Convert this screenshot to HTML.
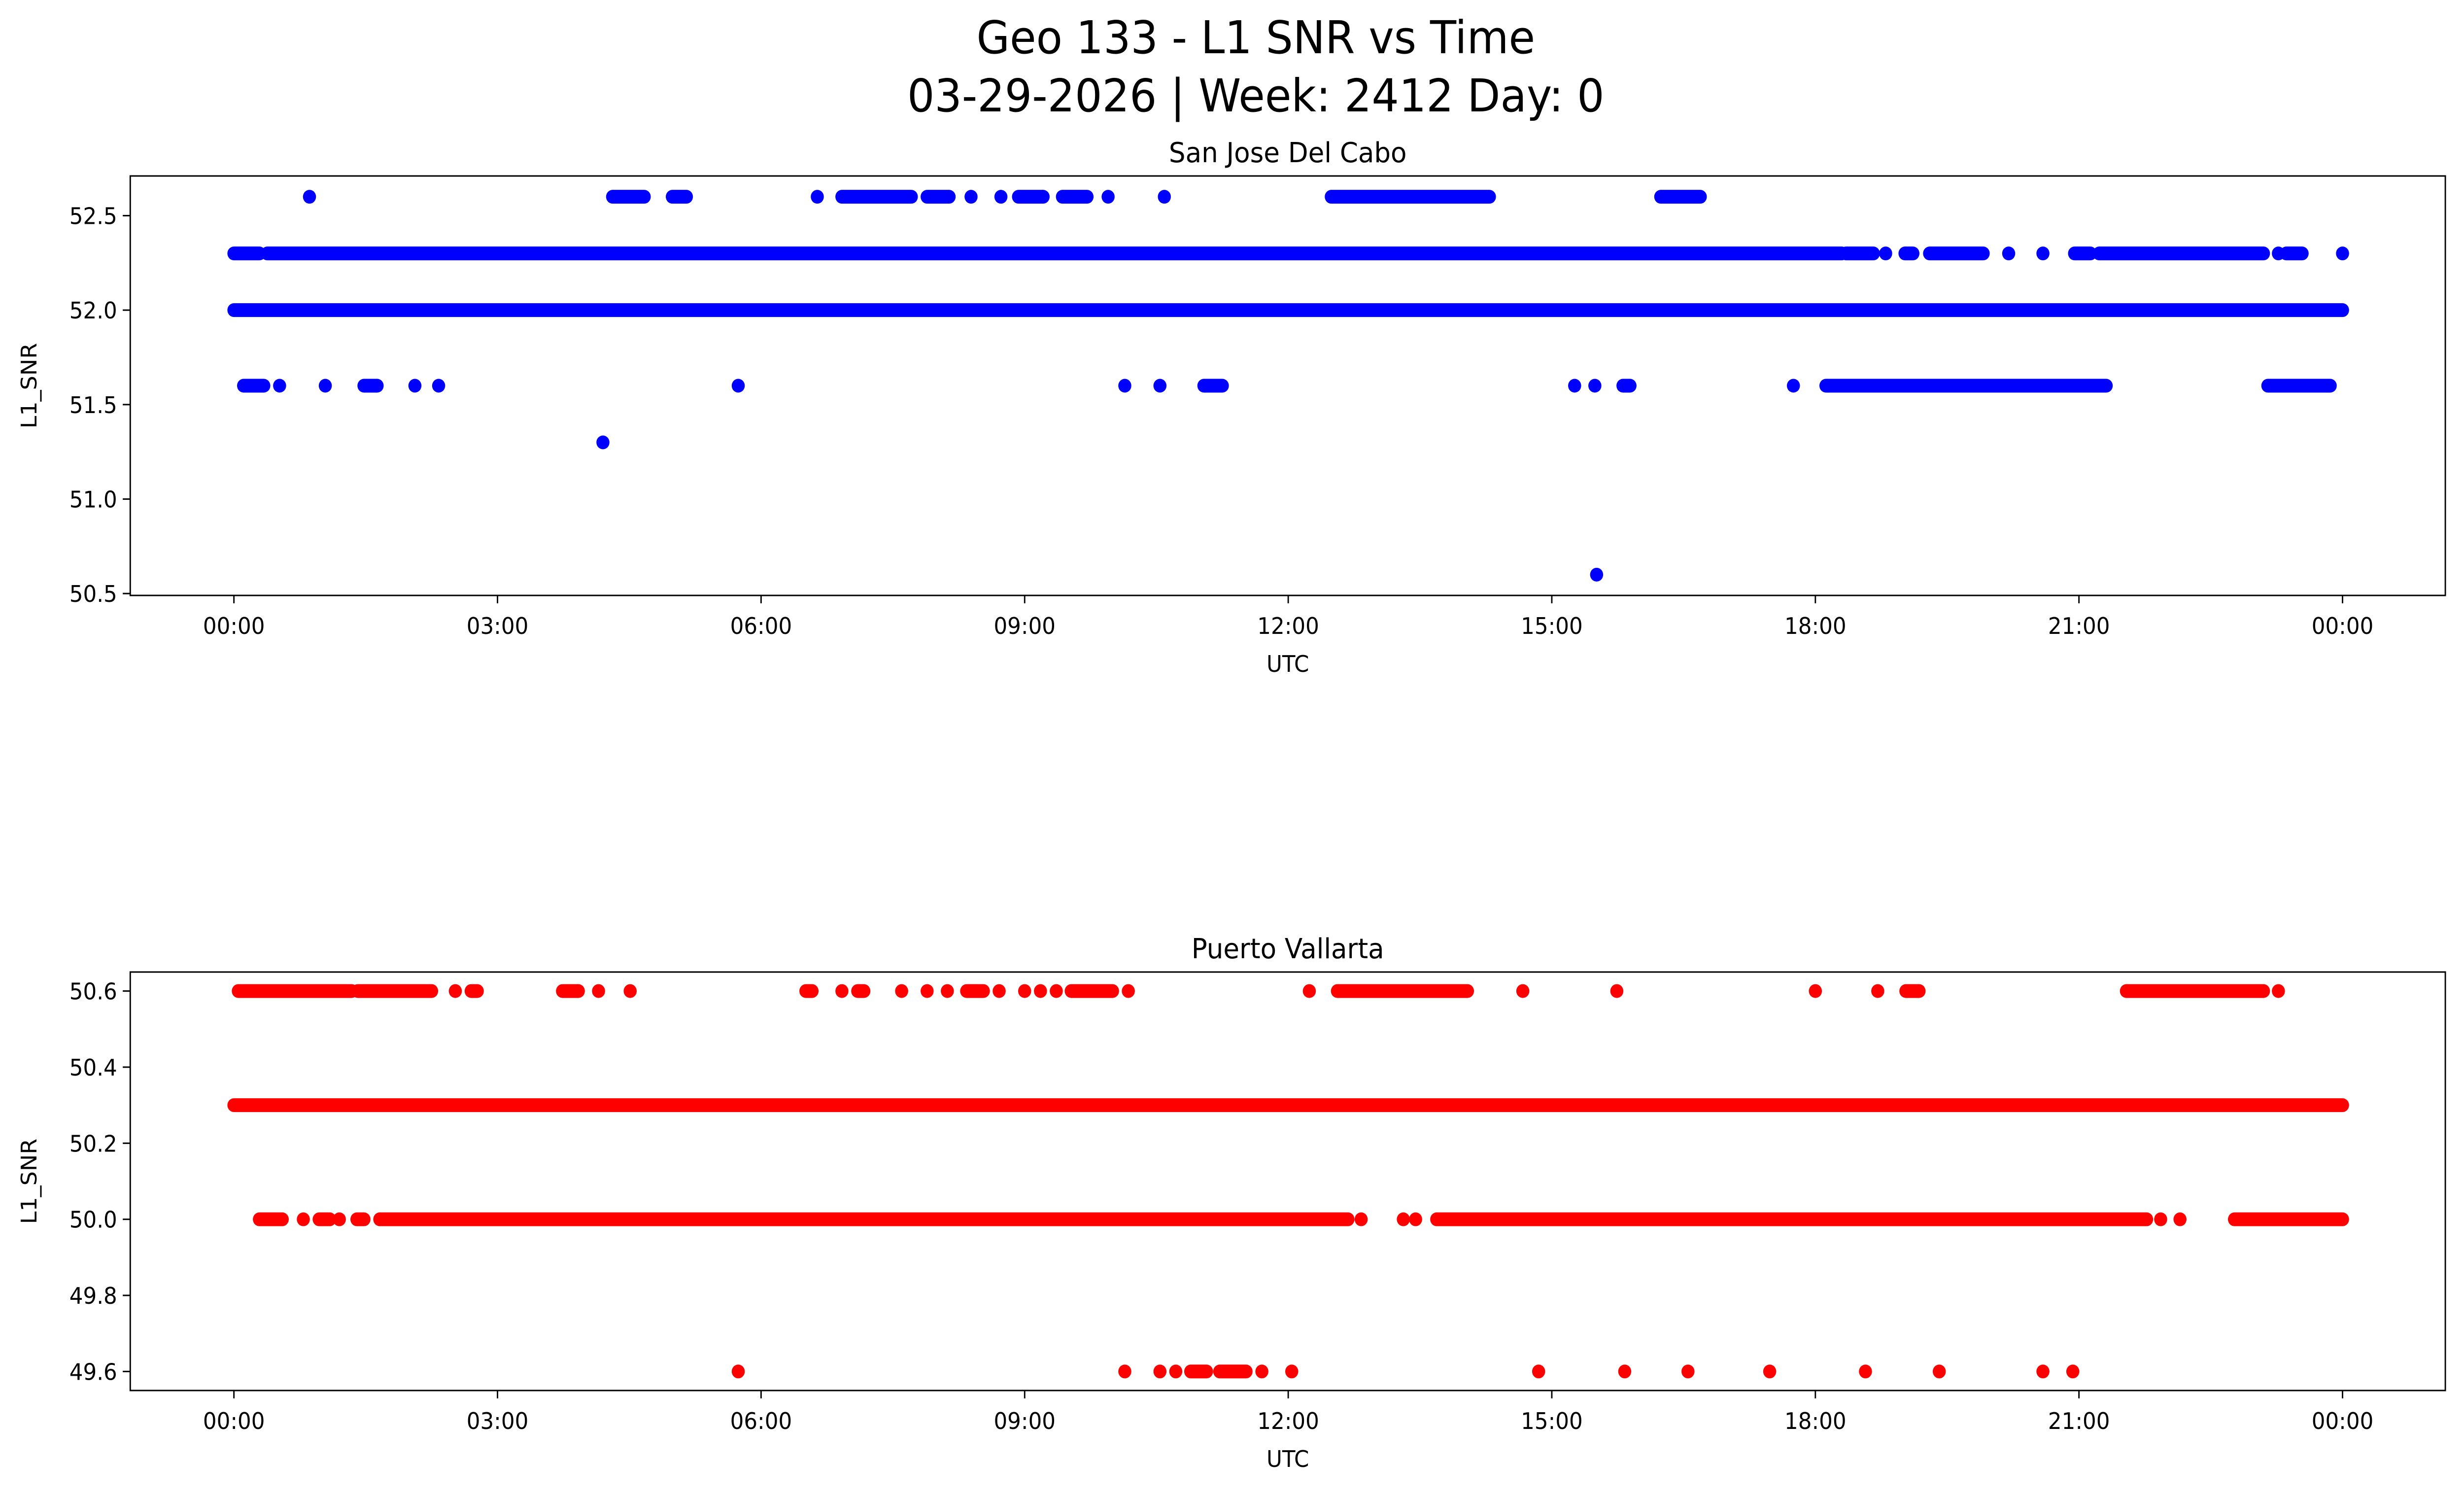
<!DOCTYPE html>
<html><head><meta charset="utf-8"><style>
html,body{margin:0;padding:0;background:#fff;overflow:hidden;width:100%;height:100%;}
svg{display:block;width:100vw;height:100vh;font-family:"DejaVu Sans","Liberation Sans",sans-serif;}
</style></head><body>
<svg id="chart" viewBox="0 0 5278 3033" preserveAspectRatio="none" xmlns="http://www.w3.org/2000/svg">
<rect width="5278" height="3033" fill="#fff"/>
<text x="2690" y="108" font-size="92" text-anchor="middle">Geo 133 - L1 SNR vs Time</text>
<text x="2690" y="226" font-size="92" text-anchor="middle">03-29-2026 | Week: 2412 Day: 0</text>
<g id="plots"></g>
</svg>
<script>
// Hours (UTC) of runs: [start,end]; start==end means a single sample
const xTickLabels = ["00:00","03:00","06:00","09:00","12:00","15:00","18:00","21:00","00:00"];
const xTickHours = [0,3,6,9,12,15,18,21,24];

const sjLevels = [52.6, 52.3, 52.0, 51.6, 51.3, 50.6];
const sj526 = [[0.86,0.86],[4.31,4.67],[4.99,5.15],[6.64,6.64],[6.92,7.71],[7.89,8.14],[8.39,8.39],[8.73,8.73],[8.93,9.21],[9.43,9.71],[9.95,9.95],[10.59,10.59],[12.49,14.29],[16.24,16.69]];
const sj523 = [[0,0.29],[0.38,18.3],[18.35,18.66],[18.8,18.8],[19.02,19.11],[19.3,19.91],[20.2,20.2],[20.59,20.59],[20.95,21.13],[21.23,23.1],[23.27,23.27],[23.36,23.54],[24,24]];
const sj520 = [[0,24]];
const sj516 = [[0.11,0.34],[0.52,0.52],[1.04,1.04],[1.48,1.63],[2.06,2.06],[2.33,2.33],[5.74,5.74],[10.14,10.14],[10.54,10.54],[11.04,11.25],[15.26,15.26],[15.49,15.49],[15.81,15.89],[17.75,17.75],[18.12,21.31],[23.15,23.86]];
const sj513 = [[4.2,4.2]];
const sj506 = [[15.51,15.51]];

const pvLevels = [50.6, 50.3, 50.0, 49.6];
const pv506 = [[0.05,1.34],[1.41,2.25],[2.52,2.52],[2.7,2.77],[3.74,3.92],[4.15,4.15],[4.51,4.51],[6.51,6.58],[6.92,6.92],[7.1,7.17],[7.6,7.6],[7.89,7.89],[8.12,8.12],[8.34,8.53],[8.71,8.71],[9.0,9.0],[9.18,9.18],[9.36,9.36],[9.53,10.0],[10.18,10.18],[12.24,12.24],[12.56,14.04],[14.67,14.67],[15.74,15.74],[18.0,18.0],[18.71,18.71],[19.03,19.18],[21.54,23.1],[23.27,23.27]];
const pv503 = [[0,24]];
const pv500 = [[0.29,0.55],[0.79,0.79],[0.97,1.09],[1.2,1.2],[1.4,1.48],[1.66,12.68],[12.83,12.83],[13.31,13.31],[13.45,13.45],[13.69,21.77],[21.93,21.93],[22.15,22.15],[22.77,24]];
const pv496 = [[5.74,5.74],[10.14,10.14],[10.54,10.54],[10.72,10.72],[10.89,11.07],[11.22,11.52],[11.7,11.7],[12.04,12.04],[14.85,14.85],[15.83,15.83],[16.55,16.55],[17.48,17.48],[18.57,18.57],[19.41,19.41],[20.59,20.59],[20.93,20.93]];

const sjYTicks = [50.5,51.0,51.5,52.0,52.5];
const sjYTickLabels = ["50.5","51.0","51.5","52.0","52.5"];
const pvYTicks = [49.6,49.8,50.0,50.2,50.4,50.6];
const pvYTickLabels = ["49.6","49.8","50.0","50.2","50.4","50.6"];

const NS="http://www.w3.org/2000/svg";
const root=document.getElementById('plots');
function mk(tag,attrs,parent){const e=document.createElementNS(NS,tag);for(const k in attrs)e.setAttribute(k,attrs[k]);(parent||root).appendChild(e);return e;}

const X0=279,X1=5238,H0=-1.18,H1=25.17;
function xs(h){return X0+(h-H0)/(H1-H0)*(X1-X0);}

function panel(cfg){
  const g=mk('g',{});
  
  
  const ys=v=>cfg.y1-(v-cfg.lo)/(cfg.hi-cfg.lo)*(cfg.y1-cfg.y0);
  cfg.series.forEach((s)=>{
    s.runs.forEach(r=>{
      const l=mk('line',{x1:xs(r[0]),x2:xs(r[1]),y1:ys(s.level),y2:ys(s.level),stroke:cfg.color,'stroke-width':28,'stroke-linecap':'round'},g);
      
      
    });
  });
  const fr=mk('rect',{x:X0,y:cfg.y0,width:X1-X0,height:cfg.y1-cfg.y0,fill:'none',stroke:'#000','stroke-width':3},g);
  
  
  xTickHours.forEach((h,i)=>{
    mk('line',{x1:xs(h),x2:xs(h),y1:cfg.y1,y2:cfg.y1+16,stroke:'#000','stroke-width':3},g);
    const t=mk('text',{x:xs(h),y:cfg.y1+78,'font-size':46,'text-anchor':'middle'},g);
    t.textContent=xTickLabels[i];
    
    
  });
  cfg.yt.forEach((v,i)=>{
    mk('line',{x1:X0-16,x2:X0,y1:ys(v),y2:ys(v),stroke:'#000','stroke-width':3},g);
    const t=mk('text',{x:X0-28,y:ys(v)+17,'font-size':46,'text-anchor':'end'},g);
    t.textContent=cfg.ytl[i];
    
    
  });
  const xl=mk('text',{x:(X0+X1)/2,y:cfg.y1+155,'font-size':46,'text-anchor':'middle'},g);
  xl.textContent='UTC';
  
  
  const cy=(cfg.y0+cfg.y1)/2;
  const yl=mk('text',{x:78,y:cy,'font-size':46,'text-anchor':'middle',transform:'rotate(-90 78 '+cy+')'},g);
  yl.textContent='L1_SNR';
  
  
  const tt=mk('text',{x:(X0+X1)/2,y:cfg.y0-28,'font-size':56,'text-anchor':'middle'},g);
  tt.textContent=cfg.title;
  
  
}

panel({name:'san-jose-panel',prefix:'sj',title:'San Jose Del Cabo',color:'#0000ff',y0:357,y1:1208,lo:50.49,hi:52.71,yt:sjYTicks,ytl:sjYTickLabels,
  series:[{level:sjLevels[0],runs:sj526},{level:sjLevels[1],runs:sj523},{level:sjLevels[2],runs:sj520},{level:sjLevels[3],runs:sj516},{level:sjLevels[4],runs:sj513},{level:sjLevels[5],runs:sj506}]});
panel({name:'puerto-vallarta-panel',prefix:'pv',title:'Puerto Vallarta',color:'#ff0000',y0:1972,y1:2821,lo:49.55,hi:50.65,yt:pvYTicks,ytl:pvYTickLabels,
  series:[{level:pvLevels[0],runs:pv506},{level:pvLevels[1],runs:pv503},{level:pvLevels[2],runs:pv500},{level:pvLevels[3],runs:pv496}]});
</script>
</body></html>
